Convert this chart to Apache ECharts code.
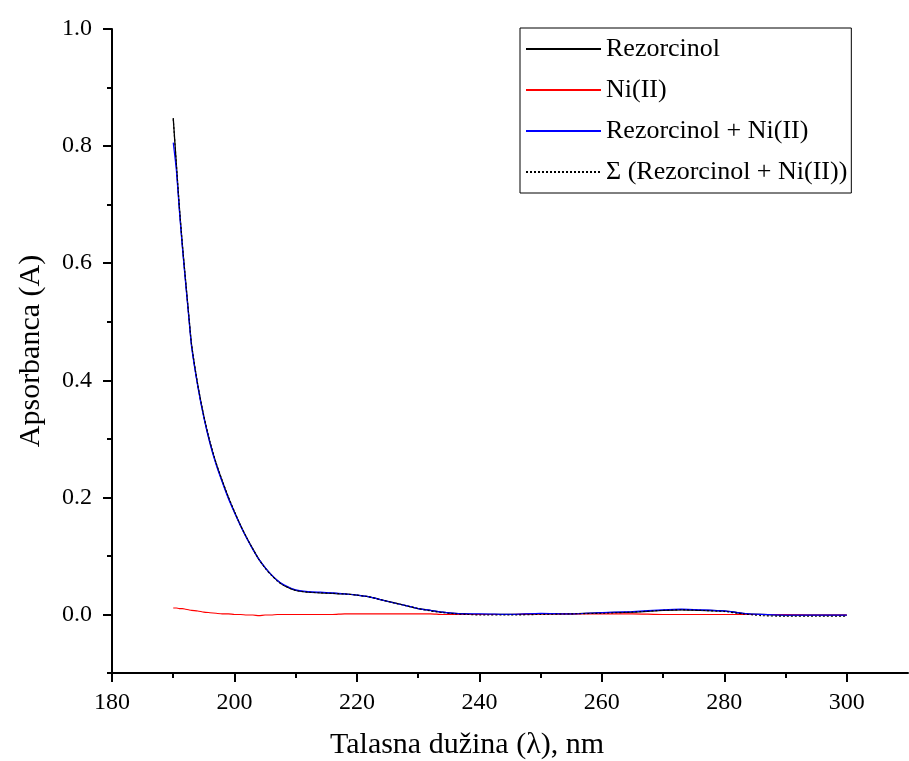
<!DOCTYPE html>
<html>
<head>
<meta charset="utf-8">
<script src="https://cdn.jsdelivr.net/npm/echarts@6/dist/echarts.min.js"></script>
<style>html,body{margin:0;padding:0;background:#fff}#c{width:909px;height:761px}</style>
</head>
<body>
<div id="c"></div>
<script>
var wavelengths = [190,190.5,191,191.5,192,192.5,193,194,195,196,197,198,199,200,201,202,203,204,205,206,207,208,209,210,212,214,216,218,220,222,224,226,228,230,232,234,236,238,240,245,250,255,260,265,270,273,276,280,283,286,290,295,300];
var rezorcinol = [0.848,0.770,0.695,0.630,0.572,0.515,0.460,0.392,0.338,0.294,0.258,0.228,0.200,0.175,0.152,0.131,0.112,0.094,0.080,0.068,0.058,0.050,0.045,0.041,0.038,0.037,0.036,0.035,0.033,0.030,0.025,0.020,0.015,0.010,0.007,0.004,0.002,0.001,0.000,0.000,0.001,0.001,0.003,0.004,0.007,0.008,0.007,0.006,0.002,0.000,-0.001,-0.001,-0.001];
var nickel = [0.011,0.011,0.010,0.010,0.009,0.008,0.007,0.006,0.004,0.003,0.002,0.001,0.001,0.000,0.000,-0.001,-0.001,-0.002,-0.001,-0.001,0.000,0.000,0.000,0.000,0.000,0.000,0.000,0.001,0.001,0.001,0.001,0.001,0.001,0.001,0.001,0.000,0.000,0.000,0.000,0.000,0.001,0.001,0.001,0.001,0.000,0.000,0.000,0.000,0.000,0.000,0.000,-0.001,-0.001];
var mixture = [0.806,0.760,0.690,0.626,0.568,0.512,0.457,0.390,0.336,0.292,0.256,0.226,0.198,0.174,0.151,0.130,0.111,0.094,0.080,0.068,0.058,0.051,0.046,0.042,0.039,0.038,0.037,0.035,0.033,0.030,0.025,0.020,0.015,0.010,0.007,0.004,0.002,0.001,0.001,0.000,0.002,0.001,0.003,0.005,0.008,0.009,0.008,0.006,0.002,0.000,-0.001,-0.001,-0.001];
var sumSeries = [0.846,0.772,0.697,0.632,0.573,0.516,0.461,0.393,0.339,0.295,0.259,0.229,0.201,0.176,0.152,0.131,0.112,0.094,0.079,0.067,0.057,0.050,0.045,0.041,0.038,0.037,0.036,0.035,0.033,0.030,0.025,0.020,0.015,0.010,0.006,0.003,0.001,0.000,-0.001,-0.001,0.000,0.001,0.002,0.004,0.007,0.008,0.007,0.005,0.001,-0.002,-0.003,-0.003,-0.003];
var seriesNames = ['Rezorcinol','Ni(II)','Rezorcinol + Ni(II)','\u03A3 (Rezorcinol + Ni(II))'];
var xMajorTicks = [180,200,220,240,260,280,300];
var xMinorTicks = [190,210,230,250,270,290];
var yMajorTicks = [0,0.2,0.4,0.6,0.8,1.0];
var yMinorTicks = [-0.1,0.1,0.3,0.5,0.7,0.9];

function pairs(vals){ return wavelengths.map(function(w,i){ return [w, vals[i]]; }); }

var FONT = 'Liberation Serif';
var chart = echarts.init(document.getElementById('c'));
var axisCommon = {
  type: 'value',
  splitLine: {show: false}
};
chart.setOption({
  animation: false,
  backgroundColor: '#fff',
  grid: {left: 112, right: 1, top: 29, bottom: 88, containLabel: false},
  legend: {
    orient: 'vertical',
    left: 520, top: 28,
    padding: [7, 4, 7, 5],
    itemWidth: 75, itemHeight: 14, itemGap: 13,
    borderColor: '#000', borderWidth: 1, backgroundColor: '#fff',
    itemStyle: {opacity: 0},
    textStyle: {fontFamily: FONT, fontSize: 26, color: '#000', lineHeight: 28},
    data: seriesNames
  },
  graphic: [{
    type: 'text', left: 480 - 150, top: 730,
    style: {text: 'Talasna du\u017Eina (\u03BB), nm', font: '30px "Liberation Serif"', fill: '#000', width: 300, align: 'center'}
  }],
  xAxis: [
    Object.assign({}, axisCommon, {
      min: 180, max: 310,
      axisLine: {onZero: false, lineStyle: {color: '#000', width: 2}},
      axisTick: {customValues: xMajorTicks, length: 9, lineStyle: {color: '#000', width: 2}},
      axisLabel: {customValues: xMajorTicks, margin: 18, fontFamily: FONT, fontSize: 24, color: '#000'}
    }),
    Object.assign({}, axisCommon, {
      min: 180, max: 310, position: 'bottom',
      axisLine: {show: false, onZero: false},
      axisTick: {customValues: xMinorTicks, length: 5, lineStyle: {color: '#000', width: 2}},
      axisLabel: {show: false}
    })
  ],
  yAxis: [
    Object.assign({}, axisCommon, {
      min: -0.1, max: 1.0,
      name: 'Apsorbanca (A)', nameLocation: 'middle', nameGap: 66,
      nameTextStyle: {fontFamily: FONT, fontSize: 30, color: '#000'},
      axisLine: {onZero: false, lineStyle: {color: '#000', width: 2}},
      axisTick: {customValues: yMajorTicks, length: 9, lineStyle: {color: '#000', width: 2}},
      axisLabel: {customValues: yMajorTicks, margin: 20, fontFamily: FONT, fontSize: 24, color: '#000',
        formatter: function(v){ return v.toFixed(1); }}
    }),
    Object.assign({}, axisCommon, {
      min: -0.1, max: 1.0, position: 'left',
      axisLine: {show: false, onZero: false},
      axisTick: {customValues: yMinorTicks, length: 5, lineStyle: {color: '#000', width: 2}},
      axisLabel: {show: false}
    })
  ],
  series: [
    {name: seriesNames[0], type: 'line', data: pairs(rezorcinol), symbol: 'none', smooth: 0.2, z: 2,
     lineStyle: {color: '#000', width: 1.3}, itemStyle: {color: '#000'}},
    {name: seriesNames[1], type: 'line', data: pairs(nickel), symbol: 'none', smooth: 0.2, z: 3,
     lineStyle: {color: '#ff0000', width: 1.1}, itemStyle: {color: '#ff0000'}},
    {name: seriesNames[2], type: 'line', data: pairs(mixture), symbol: 'none', smooth: 0.2, z: 4,
     lineStyle: {color: '#0000ff', width: 1.2}, itemStyle: {color: '#0000ff'}},
    {name: seriesNames[3], type: 'line', data: pairs(sumSeries), symbol: 'none', smooth: 0.2, z: 5,
     lineStyle: {color: '#000', width: 1.1, type: [2, 2]}, itemStyle: {color: '#000'}}
  ]
});
</script>
</body>
</html>
